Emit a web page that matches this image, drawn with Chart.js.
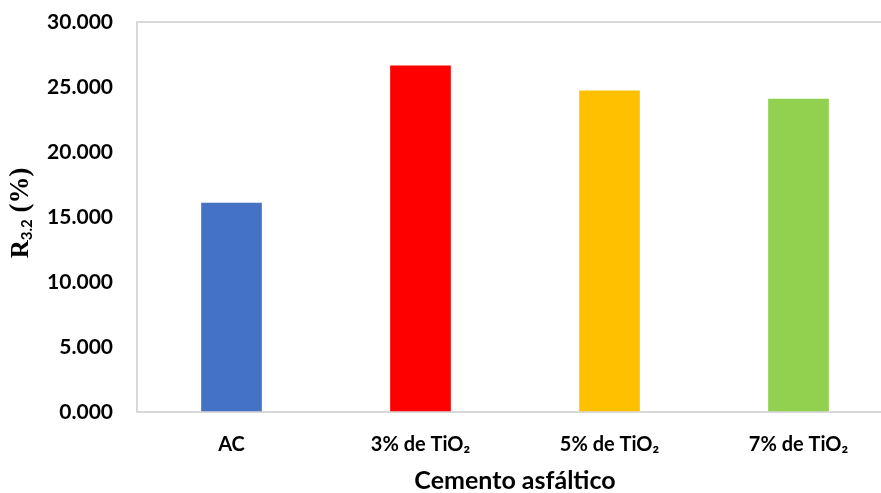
<!DOCTYPE html>
<html>
<head>
<meta charset="utf-8">
<script src="https://cdn.jsdelivr.net/npm/chart.js@4/dist/chart.umd.min.js"></script>
<style>
  html, body { margin: 0; padding: 0; background: #fff; }
  #wrap { width: 881px; height: 493px; overflow: hidden; position: relative; }
  canvas { display: block; }
</style>
</head>
<body>
<div id="wrap"><canvas id="c" width="893" height="493"></canvas></div>
<script>
// Ensayo de recuperación elástica R3.2 por tipo de cemento asfáltico
const categories = ['AC', '3% de TiO\u2082', '5% de TiO\u2082', '7% de TiO\u2082'];
const r32Values = [16.08, 26.62, 24.70, 24.08];
const barColors = ['#4472C4', '#FF0000', '#FFC000', '#92D050'];
const yTicks = [0, 5, 10, 15, 20, 25, 30];
const xTitle = 'Cemento asfáltico';

const axisGray = '#d9d9d9';
const sans = 'Lato, "Open Sans", sans-serif';
const serif = '"Liberation Serif", "Times New Roman", serif';

// Axis titles drawn by hand so the Y title can carry a subscript
const axisTitles = {
  id: 'axisTitles',
  afterDraw(chart) {
    const { ctx, chartArea } = chart;
    ctx.save();
    ctx.fillStyle = '#000';

    // X title, centred under the plot area
    ctx.font = 'bold 25px ' + sans;
    ctx.textAlign = 'center';
    ctx.textBaseline = 'alphabetic';
    ctx.fillText(xTitle, (chartArea.left + chartArea.right) / 2, 489);

    // Y title: R with subscript 3.2, then (%)
    const parts = [
      { t: 'R', f: 'bold 25px ' + serif, dy: 0 },
      { t: '3.2', f: 'bold 15px ' + sans, dy: 4 },
      { t: ' (%)', f: 'bold 27px ' + serif, dy: 0 }
    ];
    let total = 0;
    parts.forEach(p => { ctx.font = p.f; p.w = ctx.measureText(p.t).width; total += p.w; });
    const cy = (chartArea.top + chartArea.bottom) / 2 - 4;
    ctx.translate(28, cy);
    ctx.rotate(-Math.PI / 2);
    ctx.textAlign = 'left';
    let x = -total / 2;
    parts.forEach(p => {
      ctx.font = p.f;
      ctx.fillText(p.t, x, p.dy);
      x += p.w;
    });
    ctx.restore();
  }
};

new Chart(document.getElementById('c'), {
  type: 'bar',
  data: {
    labels: categories,
    datasets: [{
      data: r32Values,
      backgroundColor: barColors,
      borderWidth: 0,
      barThickness: 60
    }]
  },
  options: {
    responsive: false,
    animation: false,
    layout: { padding: { top: 22, right: 0, left: 0, bottom: 0 } },
    plugins: { legend: { display: false }, tooltip: { enabled: false } },
    scales: {
      x: {
        grid: { display: false, drawTicks: false },
        border: { display: true, color: axisGray, width: 2 },
        ticks: { color: '#000', font: { family: sans, size: 20, weight: 'bold' }, padding: 21 },
        afterFit: s => { s.height = 81; s.paddingLeft = 0; s.paddingRight = 0; }
      },
      y: {
        min: 0,
        max: 30,
        afterBuildTicks: s => { s.ticks = yTicks.map(v => ({ value: v })); },
        grid: {
          drawTicks: false,
          color: ctx => (ctx.tick && ctx.tick.value === 30 ? axisGray : 'rgba(0,0,0,0)'),
          lineWidth: 2
        },
        border: { display: true, color: axisGray, width: 2 },
        ticks: {
          color: '#000',
          font: { family: sans, size: 21, weight: 'bold' },
          padding: 24,
          callback: v => Number(v).toFixed(3)
        },
        afterFit: s => { s.width = 137; s.paddingTop = 0; s.paddingBottom = 0; }
      }
    }
  },
  plugins: [axisTitles]
});
</script>
</body>
</html>
